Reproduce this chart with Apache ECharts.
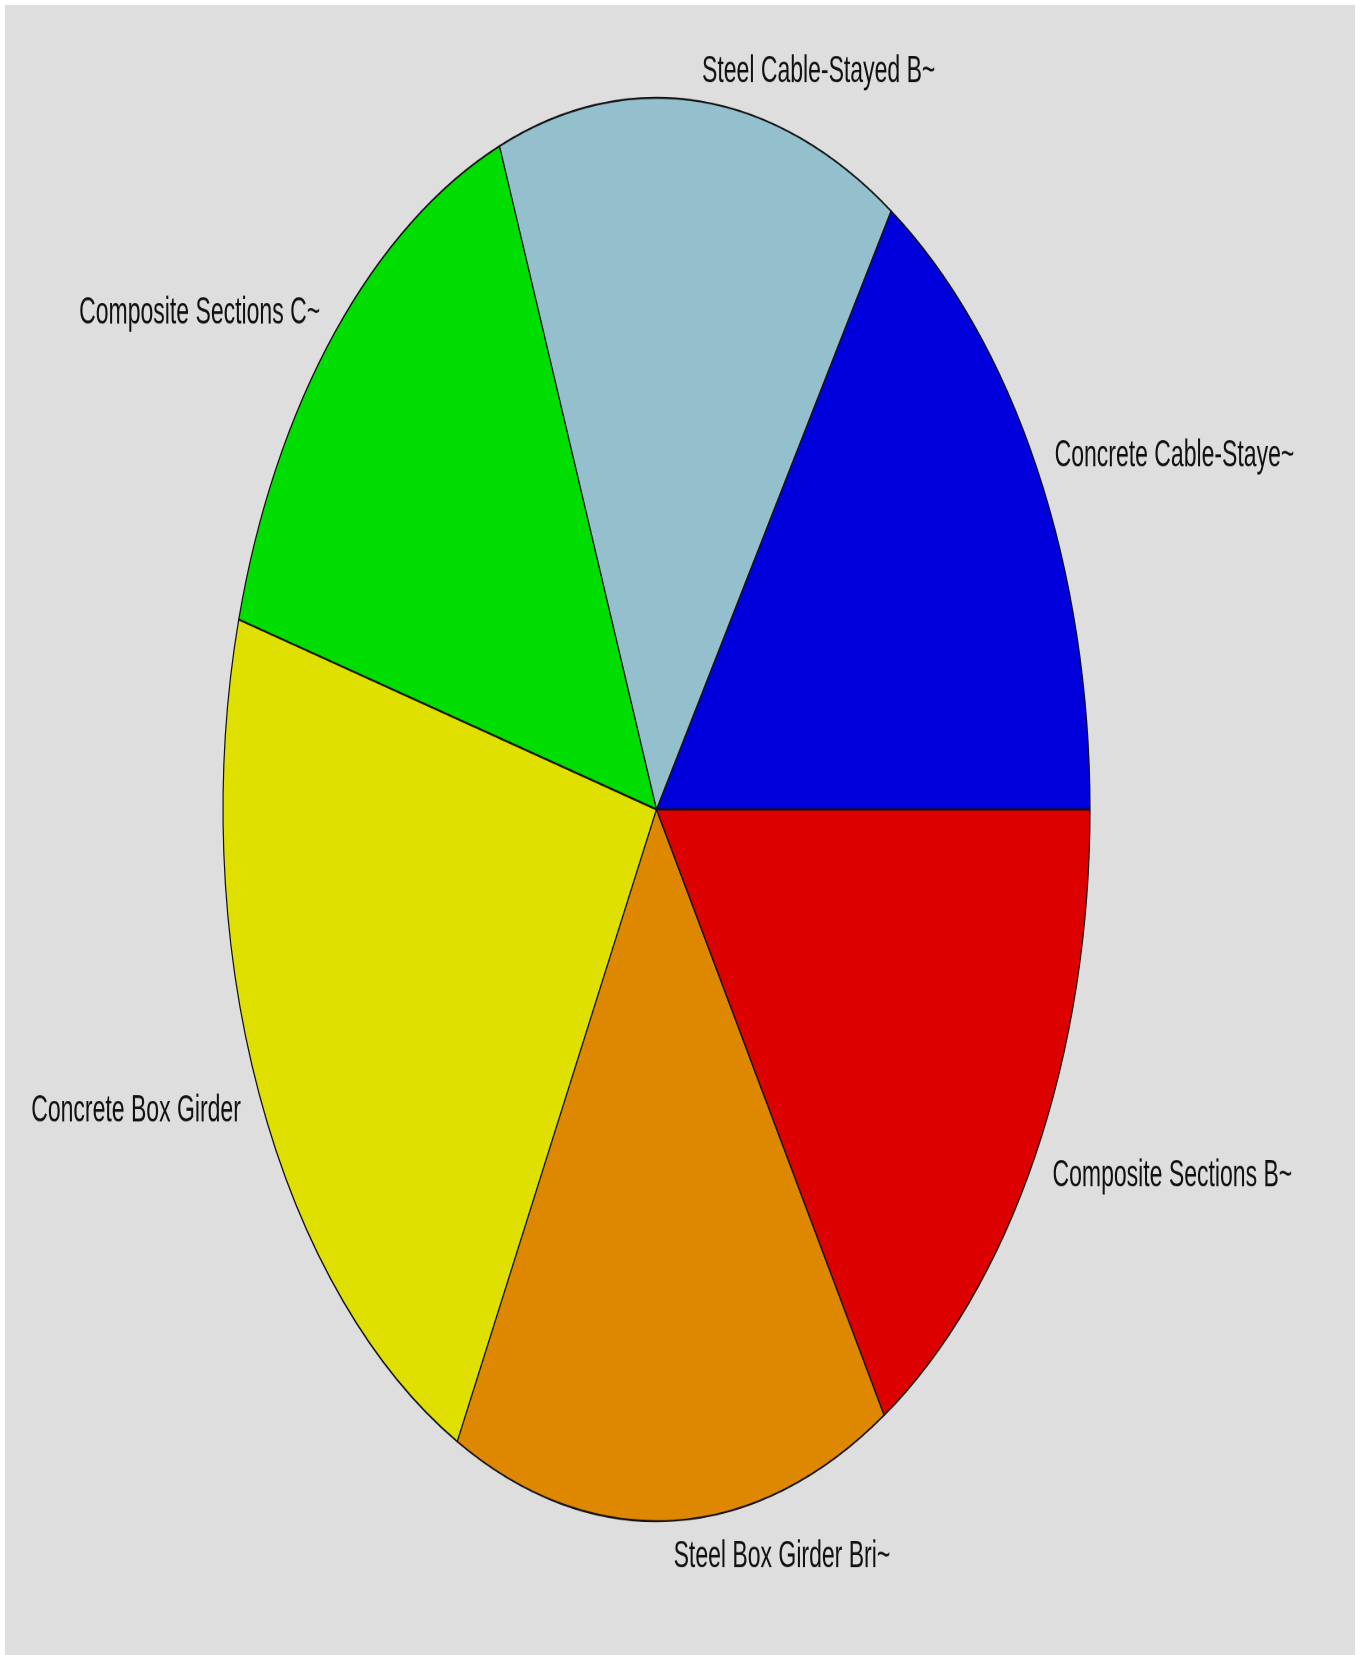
<!DOCTYPE html>
<html>
<head>
<meta charset="utf-8">
<title>Bridge types pie</title>
<script src="https://cdn.jsdelivr.net/npm/echarts@6/dist/echarts.min.js"></script>
<style>
  html, body { margin: 0; padding: 0; background: #ffffff; }
  /* gray plot panel */
  #panel {
    position: absolute; left: 5px; top: 5px;
    width: 1350px; height: 1650px;
    background: #dedede; overflow: hidden;
  }
  /* the original pie is stretched vertically into an ellipse */
  #mychart {
    position: absolute; left: 0; top: 0;
    width: 1350px; height: 1005px;
    transform: scaleY(1.6418); transform-origin: 0 0;
  }
</style>
</head>
<body>
<div id="panel"><div id="mychart"></div></div>
<script>
// slice names (counter-clockwise from 3 o'clock)
var categories = ['Concrete Cable-Staye~', 'Steel Cable-Stayed B~', 'Composite Sections C~',
                  'Concrete Box Girder', 'Steel Box Girder Bri~', 'Composite Sections B~'];
// shares in percent
var shares = [15.9, 15.0, 14.8, 21.7, 16.4, 16.2];
var colors = ['#0000dd', '#94bfcc', '#00dd00', '#e0e000', '#dd8800', '#dd0000'];

var pieData = categories.map(function (name, i) {
  return { name: name, value: shares[i], itemStyle: { color: colors[i] } };
});

var myChart = echarts.init(document.getElementById('mychart'), null, { devicePixelRatio: 2 });
var option = {
  animation: false,
  series: [{
    type: 'pie',
    center: [651.5, 490],
    radius: 433.5,
    startAngle: 0,
    clockwise: false,
    avoidLabelOverlap: false,
    silent: true,
    itemStyle: { borderColor: '#111111', borderWidth: 1.2 },
    label: {
      show: true,
      position: 'outside',
      color: '#111111',
      fontSize: 23,
      distanceToLabelLine: 0,
      offset: [0, 2],
      fontFamily: '"Liberation Sans", "DejaVu Sans", sans-serif'
    },
    labelLine: { show: false, length: 20, length2: 0 },
    data: pieData
  }]
};
myChart.setOption(option);
</script>
</body>
</html>
